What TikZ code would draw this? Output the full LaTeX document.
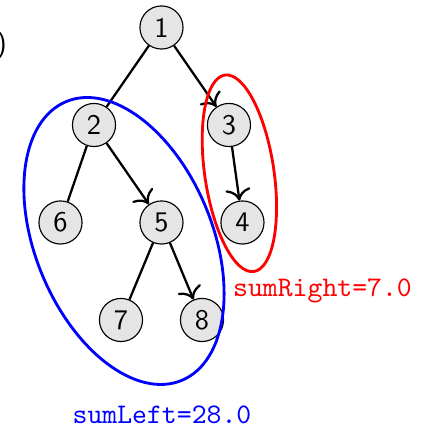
\documentclass[tikz,border=0pt]{standalone}
\usepackage{tikz}
\usetikzlibrary{shapes,arrows,arrows.meta,positioning,calc}
\colorlet{lcleft}{blue}
\colorlet{lcright}{red}
\colorlet{lcfill}{black!10}

\begin{document}
\begin{tikzpicture}[%
    >={To[scale=1.25]},              % slightly larger open tips
    node distance=34.37pt and 23.79pt, % Global setup of level spacing
    every node/.style={font=\sffamily}]
% -------------------------------------------------
% A few node and connector styles
\tikzset{
  vert/.style={draw, circle, on grid, fill=lcfill, minimum size=15.2pt, inner sep=0pt},
  tree/.style={draw, thick},
  kid/.style={tree, ->},
  sumlabel/.style={font={\ttfamily}},
  ring/.style={draw, line width=1pt}
}
\useasboundingbox (0,0) rectangle (153pt,-150.5pt);
% -------------------------------------------------
% Start by placing the root, then the levels below it
\node [vert] (n1) at (56.93pt,-9.69pt) {1};
\node [vert, below left=of n1]  (n2) {2};
\node [vert, below right=of n1] (n3) {3};
\node [vert, below left=34.37pt and 11.81pt of n2] (n6) {6};
\node [vert, below right=of n2] (n5) {5};
\node [vert, below right=34.37pt and 4.76pt of n3] (n4) {4};
\node [vert, below left=34.37pt and 14.28pt of n5]  (n7) {7};
\node [vert, below right=34.37pt and 14.28pt of n5] (n8) {8};

% -------------------------------------------------
% Tree edges, left children plain, right children with arrows
\draw [tree] (n1) -- (n2);
\draw [kid]  (n1) -- (n3);
\draw [tree] (n2) -- (n6);
\draw [kid]  (n2) -- (n5);
\draw [kid]  (n3) -- (n4);
\draw [tree] (n5) -- (n7);
\draw [kid]  (n5) -- (n8);

% -------------------------------------------------
% Rings round the two subtrees and their sums
\draw [ring, lcleft]  (43.71pt,-84.95pt) ellipse [x radius=31.2pt, y radius=53.2pt, rotate=22.5];
\draw [ring, lcright] (84.39pt,-61.09pt) ellipse [x radius=12.2pt, y radius=35pt, rotate=8.4];
\node [sumlabel, lcright] (sr) at (113.7pt,-102.6pt) {sumRight=7.0};
\node [sumlabel, lcleft, inner sep=0pt, anchor=base] (sl) at (57.1pt,-149.4pt) {sumLeft=28.0};

% a cut-off bracket at the left edge
\node [anchor=east, inner sep=0pt] (cut) at (2.6pt,-16pt) {)};
% -------------------------------------------------
\end{tikzpicture}
\end{document}
